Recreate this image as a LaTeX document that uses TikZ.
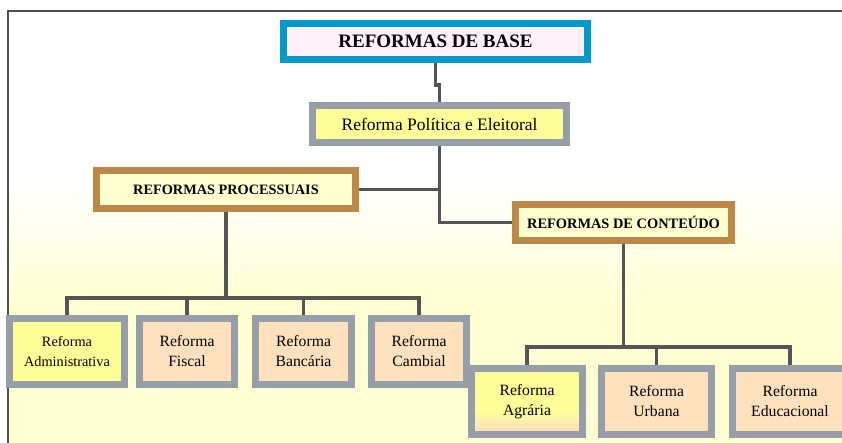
\documentclass[tikz,border=0pt]{standalone}
\usepackage{fontspec}
\setmainfont{Liberation Serif}
\definecolor{bblue}{RGB}{0,153,204}
\definecolor{pinkfill}{RGB}{255,242,250}
\definecolor{bgray}{RGB}{150,158,168}
\definecolor{yel}{RGB}{255,255,153}
\definecolor{bbrown}{RGB}{188,136,72}
\definecolor{paleyel}{RGB}{255,255,208}
\definecolor{peach}{RGB}{255,226,189}
\definecolor{linegray}{RGB}{85,85,85}
\definecolor{framegray}{RGB}{80,80,80}
\definecolor{bgyellow}{RGB}{255,255,212}
\pgfdeclareverticalshading{agrshade}{100bp}{color(0bp)=(peach); color(29bp)=(peach); color(43bp)=(yel); color(100bp)=(yel)}
\tikzset{
  conn/.style={draw=linegray, line width=3.5pt},
  basebox/.style={draw=bblue, fill=pinkfill, line width=7pt, inner sep=0pt, font=\fontsize{19}{22}\selectfont\bfseries},
  graybox/.style={draw=bgray, line width=7pt, inner sep=0pt, align=center},
  brownbox/.style={draw=bbrown, fill=paleyel, line width=7pt, inner sep=0pt, font=\fontsize{14.3}{17}\selectfont\bfseries},
  leaf/.style={graybox, fill=peach, minimum height=66pt, font=\fontsize{15.7}{20}\selectfont},
}
\begin{document}
\begin{tikzpicture}[x=1pt,y=-1pt]
\useasboundingbox (0,0) rectangle (842,443);
\clip (0,0) rectangle (842,443);
% background
\fill[white] (0,0) rectangle (842,443);
\shade[top color=white, bottom color=bgyellow] (8,180) rectangle (842,300);
\fill[bgyellow] (8,299.5) rectangle (842,443);
\draw[framegray, line width=1.5pt] (8,443) -- (8,11) -- (842,11);

% nodes
\node[basebox, minimum width=304pt, minimum height=36pt] (base) at (435.5,41.5) {REFORMAS DE BASE};
\node[graybox, fill=yel, minimum width=254pt, minimum height=37pt, font=\fontsize{17.5}{20}\selectfont] (pol) at (439.5,124) {Reforma Política e Eleitoral};
\node[brownbox, minimum width=259pt, minimum height=38pt] (proc) at (226,189.5) {REFORMAS PROCESSUAIS};
\node[brownbox, minimum width=216pt, minimum height=36pt, font=\fontsize{14.4}{17}\selectfont\bfseries] (cont) at (623.5,222.5) {REFORMAS DE CONTEÚDO};

\node[leaf, fill=yel, minimum width=115pt, font=\fontsize{14.3}{20}\selectfont] (adm) at (67,351.5) {Reforma\\Administrativa};
\node[leaf, minimum width=95pt] (fis) at (187,351.5) {Reforma\\Fiscal};
\node[leaf, minimum width=96pt] (ban) at (303.5,351.5) {Reforma\\Bancária};
\node[leaf, minimum width=95pt] (cam) at (419,351.5) {Reforma\\Cambial};

\node[leaf, shading=agrshade, shade, minimum width=111pt] (agr) at (527,401.5) {Reforma\\Agrária};
\node[leaf, minimum width=110pt] (urb) at (656.5,401.5) {Reforma\\Urbana};
\node[leaf, minimum width=115pt] (edu) at (790,401.5) {Reforma\\Educacional};

% connectors
\coordinate (busA) at (0,298);
\coordinate (busB) at (0,347);
\begin{scope}[on background layer/.style={}]
\end{scope}
\draw[conn] (base.south) -- ++(0,22) -| (pol.north);
\draw[conn] (pol.south) |- (cont.west);
\draw[conn] (proc.east) -- (proc.east -| pol.south);
\draw[conn] (proc.south) -- (proc.south |- busA);
\draw[conn, line cap=rect] (adm.north |- busA) -- (cam.north |- busA);
\draw[conn] (adm.north |- busA) -- (adm.north);
\draw[conn] (fis.north |- busA) -- (fis.north);
\draw[conn] (ban.north |- busA) -- (ban.north);
\draw[conn] (cam.north |- busA) -- (cam.north);
\draw[conn] (cont.south) -- (cont.south |- busB);
\draw[conn, line cap=rect] (agr.north |- busB) -- (edu.north |- busB);
\draw[conn] (agr.north |- busB) -- (agr.north);
\draw[conn] (urb.north |- busB) -- (urb.north);
\draw[conn] (edu.north |- busB) -- (edu.north);
\end{tikzpicture}
\end{document}
